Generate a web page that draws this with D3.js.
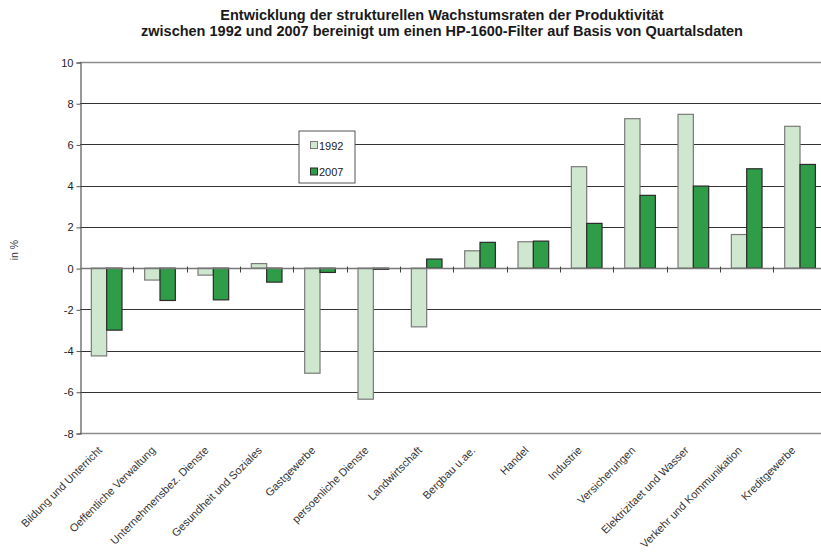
<!DOCTYPE html>
<html>
<head>
<meta charset="utf-8">
<script src="https://cdn.jsdelivr.net/npm/d3@7/dist/d3.min.js"></script>
<style>
  html, body { margin: 0; padding: 0; background: #fff; }
  svg { display: block; font-family: "Liberation Sans", Arial, sans-serif; }
</style>
</head>
<body>
<svg id="chart" width="821" height="552"></svg>
<script>
// Sectors, ordered as on the axis
const categories = [
  "Bildung und Unterricht",
  "Oeffentliche Verwaltung",
  "Unternehmensbez. Dienste",
  "Gesundheit und Soziales",
  "Gastgewerbe",
  "persoenliche Dienste",
  "Landwirtschaft",
  "Bergbau u.ae.",
  "Handel",
  "Industrie",
  "Versicherungen",
  "Elektrizitaet und Wasser",
  "Verkehr und Kommunikation",
  "Kreditgewerbe"
];
// Structural productivity growth, in %
const values1992 = [-4.26, -0.58, -0.34, 0.22, -5.1, -6.36, -2.85, 0.84, 1.28, 4.92, 7.25, 7.46, 1.63, 6.88];
const values2007 = [-3.01, -1.57, -1.54, -0.68, -0.21, -0.06, 0.44, 1.25, 1.31, 2.17, 3.53, 3.98, 4.82, 5.03];
const seriesNames = ["1992", "2007"];
const yTicks = [-8, -6, -4, -2, 0, 2, 4, 6, 8, 10];
const titleLines = [
  "Entwicklung der strukturellen Wachstumsraten der Produktivität",
  "zwischen 1992 und 2007 bereinigt um einen HP-1600-Filter auf Basis von Quartalsdaten"
];

const fills = ["#cfe7cf", "#2f9c47"];
const strokes = ["#7a7a7a", "#2b2b2b"];

const svg = d3.select("#chart");
const plot = { left: 80, right: 826.7, top: 62, bottom: 433 };

const x = d3.scaleBand().domain(categories).range([plot.left, plot.right]).paddingInner(0).paddingOuter(0);
const bandW = x.bandwidth();
const barW = bandW * 0.2875;
const y = d3.scaleLinear().domain([-8, 10]).range([plot.bottom, plot.top]);

// Title
svg.append("g").selectAll("text").data(titleLines).join("text")
  .attr("x", 442).attr("y", (d, i) => 19.5 + i * 16.5)
  .attr("text-anchor", "middle")
  .attr("font-size", 14.5).attr("font-weight", "bold").attr("fill", "#1a1a1a")
  .text(d => d);

// Horizontal gridlines
svg.append("g").selectAll("line").data(yTicks.filter(t => t !== 0 && t !== -8 && t !== 10)).join("line")
  .attr("x1", plot.left).attr("x2", 821)
  .attr("y1", d => Math.round(y(d)) + 0.5).attr("y2", d => Math.round(y(d)) + 0.5)
  .attr("stroke", "#333").attr("stroke-width", 1);
// Top and bottom frame lines
[10, -8].forEach(v => {
  svg.append("line")
    .attr("x1", plot.left).attr("x2", 821)
    .attr("y1", Math.round(y(v)) + 0.5).attr("y2", Math.round(y(v)) + 0.5)
    .attr("stroke", "#8c8c8c").attr("stroke-width", 1.3);
});

// Y axis
const yAxis = d3.axisLeft(y).tickValues(yTicks).tickSize(4).tickPadding(3).tickFormat(d => String(d));
const gy = svg.append("g").attr("transform", `translate(${plot.left + 0.5},0.5)`).call(yAxis);
gy.select(".domain").attr("stroke", "#555").attr("stroke-width", 1.2);
gy.selectAll(".tick line").attr("stroke", "#555");
gy.selectAll(".tick text").attr("font-size", 11).attr("fill", "#222")
  .attr("font-family", "Liberation Sans, Arial, sans-serif");

// Y axis title
svg.append("text")
  .attr("transform", `translate(18,${y(0) - 18}) rotate(-90)`)
  .attr("text-anchor", "middle").attr("font-size", 10.5).attr("fill", "#333")
  .text("in %");

// Bars
const series = [values1992, values2007];
series.forEach((vals, s) => {
  svg.append("g").selectAll("rect").data(vals.map((v, i) => ({ v, c: categories[i] }))).join("rect")
    .attr("x", d => x(d.c) + bandW / 2 - barW + s * barW)
    .attr("width", barW)
    .attr("y", d => y(Math.max(0, d.v)))
    .attr("height", d => Math.abs(y(d.v) - y(0)))
    .attr("fill", fills[s]).attr("stroke", strokes[s]).attr("stroke-width", 1.2);
});

// Zero line with category ticks
svg.append("line")
  .attr("x1", plot.left).attr("x2", 821)
  .attr("y1", Math.round(y(0)) + 0.5).attr("y2", Math.round(y(0)) + 0.5)
  .attr("stroke", "#777").attr("stroke-width", 1.3);
const gx = svg.append("g").attr("transform", `translate(0,${Math.round(y(0)) + 0.5})`);
gx.selectAll("line").data(categories.slice(1)).join("line")
  .attr("x1", d => Math.round(x(d)) + 0.5).attr("x2", d => Math.round(x(d)) + 0.5)
  .attr("y1", -2).attr("y2", 4).attr("stroke", "#444");

// Category labels along the bottom
svg.append("g").selectAll("text").data(categories).join("text")
  .attr("transform", d => `translate(${x(d) + bandW / 2 - 4},${plot.bottom + 18}) rotate(-45)`)
  .attr("text-anchor", "end").attr("font-size", 11).attr("fill", "#333")
  .text(d => d);

// Legend
const lg = svg.append("g").attr("transform", "translate(299,131)");
lg.append("rect").attr("x", 0).attr("y", 0).attr("width", 56).attr("height", 52)
  .attr("fill", "#fff").attr("stroke", "#555").attr("stroke-width", 1);
seriesNames.forEach((n, i) => {
  const yy = 10 + i * 26.5;
  lg.append("rect").attr("x", 11.5).attr("y", yy + 0.5).attr("width", 7).attr("height", 7)
    .attr("fill", fills[i]).attr("stroke", strokes[i]).attr("stroke-width", 1);
  lg.append("text").attr("x", 20).attr("y", yy + 8.5).attr("font-size", 11).attr("fill", "#222").text(n);
});
</script>
</body>
</html>
